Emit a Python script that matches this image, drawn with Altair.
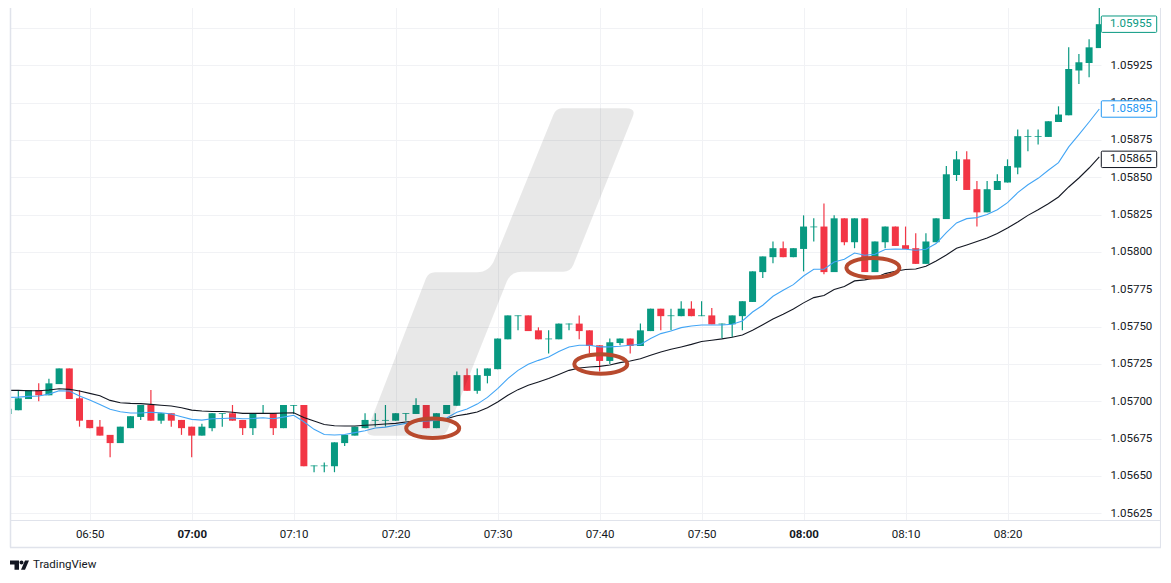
import altair as alt
import pandas as pd

# --- chart values ---
opens = [
1.056915,1.05694,1.057015,1.057075,1.05704,1.057115,1.05722,1.05702,
1.056875,1.05683,1.056775,1.05672,1.05682,1.056895,1.056975,1.05687,1.05692,1.056875,
1.05683,1.05677,1.05682,1.056915,1.05692,1.056875,1.05682,1.056915,1.05692,1.05682,
1.05697,1.056975,1.056565,1.056565,1.056565,1.05672,1.05677,1.05682,1.05687,1.05687,
1.05687,1.056915,1.056915,1.056975,1.05682,1.056915,1.05697,1.057175,1.05707,1.05717,
1.057215,1.057415,1.05757,1.057575,1.057475,1.057415,1.057415,1.057515,1.05752,1.057475,
1.057375,1.05727,1.05739,1.05742,1.05737,1.05747,1.05762,1.05757,1.05757,1.05762,
1.05757,1.057575,1.057515,1.057515,1.05757,1.057665,1.057865,1.057965,1.058025,1.057965,
1.05802,1.058165,1.05817,1.057865,1.058225,1.058065,1.058225,1.057865,1.058065,1.05817,
1.058045,1.058025,1.05792,1.058065,1.05822,1.058515,1.05862,1.05842,1.058265,1.058415,
1.058465,1.058565,1.05877,1.05877,1.05877,1.05887,1.058915,1.059215,1.059265,1.059365]
closes = [
1.05695,1.05702,1.057075,1.05704,1.05712,1.05722,1.057015,1.05687,
1.05682,1.05677,1.05672,1.05683,1.0569,1.056975,1.05687,1.05692,1.05687,1.05682,
1.05677,1.05683,1.05692,1.05692,1.05687,1.05682,1.05692,1.05692,1.05682,1.056975,
1.056975,1.056565,1.05657,1.05657,1.056725,1.056775,1.05683,1.056875,1.056875,1.056875,
1.05692,1.05692,1.056975,1.05682,1.05692,1.056975,1.057175,1.05707,1.057175,1.05722,
1.05742,1.057575,1.057575,1.05747,1.057415,1.05742,1.05752,1.05752,1.05747,1.05737,
1.05727,1.057395,1.05742,1.05737,1.057475,1.05762,1.05757,1.057575,1.05762,1.05757,
1.057575,1.057515,1.05752,1.057575,1.05767,1.05787,1.05797,1.058025,1.057965,1.058025,
1.05817,1.05817,1.057865,1.058225,1.058065,1.058225,1.057865,1.05807,1.05817,1.05804,
1.05802,1.05792,1.05807,1.058225,1.05852,1.05862,1.058415,1.058265,1.05842,1.058475,
1.058575,1.058775,1.058775,1.058775,1.058875,1.05892,1.059225,1.05927,1.05937,1.059525]
highs = [
1.05695,1.057075,1.057075,1.05712,1.05715,1.05722,1.05722,1.057075,
1.056875,1.056875,1.056775,1.05683,1.0569,1.056975,1.057075,1.05692,1.05692,1.056875,
1.05683,1.05685,1.05692,1.05692,1.056975,1.056875,1.05692,1.056975,1.05692,1.056975,
1.056975,1.056975,1.05657,1.05659,1.056725,1.056775,1.05683,1.05692,1.05692,1.056975,
1.05692,1.05692,1.05702,1.056975,1.05692,1.056975,1.0572,1.05722,1.05722,1.05722,
1.05742,1.057575,1.057575,1.057575,1.057495,1.057475,1.05752,1.05752,1.057575,1.057475,
1.057375,1.05742,1.05742,1.05742,1.05752,1.05762,1.05762,1.05762,1.05767,1.05767,
1.05767,1.057625,1.05752,1.057575,1.05767,1.05787,1.05797,1.05807,1.05807,1.058025,
1.058245,1.058225,1.058325,1.058245,1.058225,1.058225,1.058225,1.05807,1.05817,1.05817,
1.05817,1.058125,1.058125,1.058225,1.058575,1.058675,1.058675,1.058475,1.058475,1.05852,
1.05862,1.05882,1.05882,1.05882,1.058875,1.058975,1.05937,1.059325,1.059425,1.05975]
lows = [
1.056915,1.05694,1.057015,1.0570,1.05704,1.057115,1.057015,1.05683,
1.05682,1.05677,1.056625,1.05672,1.05682,1.056875,1.05687,1.05685,1.05683,1.056775,
1.056625,1.05677,1.0568,1.05683,1.05687,1.056775,1.056775,1.056915,1.056775,1.05682,
1.056915,1.056565,1.056525,1.056525,1.056525,1.0567,1.05677,1.05682,1.05683,1.05683,
1.05687,1.05687,1.056915,1.05682,1.05682,1.056915,1.05697,1.05707,1.05705,1.05712,
1.057215,1.057415,1.057475,1.05747,1.057415,1.05732,1.057415,1.057475,1.057415,1.05732,
1.0572,1.05725,1.057375,1.05732,1.05737,1.05747,1.057475,1.057475,1.05757,1.05757,
1.05757,1.057515,1.05742,1.05743,1.057475,1.057665,1.057825,1.057925,1.057965,1.057965,
1.05787,1.05807,1.05785,1.057865,1.058045,1.058025,1.057865,1.057865,1.058025,1.05804,
1.05802,1.05792,1.05792,1.058065,1.05822,1.058475,1.058415,1.05817,1.058265,1.058415,
1.058465,1.05852,1.058675,1.05872,1.05877,1.05887,1.058915,1.059125,1.05917,1.059365]
ema_black = [
1.057073,1.057073,1.05707,1.05707,1.057075,1.057084,1.05708,1.057069,
1.057053,1.057037,1.057006,1.05699,1.056986,1.056984,1.056979,1.056973,1.056968,1.056957,
1.056941,1.056935,1.056932,1.056932,1.056926,1.056919,1.056919,1.056919,1.056919,1.056921,
1.056923,1.056892,1.056868,1.056845,1.056836,1.056834,1.056834,1.056839,1.056843,1.056848,
1.056852,1.056861,1.056868,1.056874,1.056874,1.056883,1.056903,1.056914,1.056928,1.056957,
1.056995,1.05704,1.057078,1.057107,1.057129,1.057152,1.05718,1.057207,1.057223,1.05723,
1.057234,1.057243,1.057259,1.05727,1.057285,1.057308,1.05733,1.057348,1.057364,1.057381,
1.0574,1.057409,1.057418,1.057429,1.057444,1.057476,1.057513,1.057551,1.057583,1.057618,
1.057659,1.057694,1.057708,1.057748,1.057768,1.057806,1.057813,1.057826,1.057855,1.057871,
1.057882,1.057886,1.057904,1.05794,1.05798,1.058024,1.058047,1.05807,1.058093,1.058124,
1.05816,1.058201,1.058245,1.058283,1.058323,1.058368,1.058435,1.058495,1.058562,1.058636]
ema_blue = [
1.057026,1.057028,1.057033,1.057035,1.057048,1.05707,1.057069,1.057035,
1.057008,1.056979,1.056946,1.05693,1.056921,1.056921,1.056926,1.056923,1.056915,1.056897,
1.056879,1.056874,1.056883,1.056885,1.056888,1.056883,1.056885,1.05689,1.056883,1.056894,
1.056906,1.056863,1.056812,1.056778,1.056774,1.056778,1.05679,1.056803,1.056821,1.056827,
1.056839,1.056852,1.056863,1.056868,1.056872,1.056888,1.056926,1.056948,1.056981,1.057026,
1.057085,1.057152,1.057207,1.057248,1.057274,1.057297,1.057334,1.057364,1.057375,1.057375,
1.057364,1.057364,1.057368,1.057375,1.057381,1.05742,1.057453,1.057471,1.057493,1.057504,
1.057511,1.057511,1.057511,1.057516,1.057538,1.057598,1.057643,1.057703,1.057743,1.057781,
1.057839,1.057884,1.057884,1.057933,1.057951,1.057993,1.057978,1.057984,1.058016,1.05802,
1.058018,1.058011,1.058018,1.058056,1.058129,1.058194,1.058223,1.05823,1.05825,1.058283,
1.05833,1.058397,1.05845,1.058493,1.058547,1.058598,1.058703,1.058785,1.05887,1.058957]

y_ticks = [1.05625,1.05650,1.05675,1.05700,1.05725,1.05750,1.05775,1.05800,1.05825,1.05850,1.05875,1.05900,1.05925,1.05950]
tick_hm = [(6,50),(7,0),(7,10),(7,20),(7,30),(7,40),(7,50),(8,0),(8,10),(8,20)]
last_text = ["1.05955", "1.05895", "1.05865"]
last_pos = [1.059525, 1.058957, 1.05862]
last_color = ["#089981", "#2196f3", "#131722"]
mark_time = ["2024-01-01T07:23:38", "2024-01-01T07:40:07", "2024-01-01T08:06:48"]
mark_price = [1.056819, 1.05725, 1.057894]

GREEN, RED = "#089981", "#f23645"
FONT = "Roboto"
TXT = "#131722"
FRAME = "#e0e3eb"
GRID = "#f1f2f5"
FS = 11.5

start_h, start_m = 6, 42
times = []
for i in range(len(opens)):
    m = start_h * 60 + start_m + i
    times.append(f"2024-01-01T{m // 60:02d}:{m % 60:02d}:00")

candles = pd.DataFrame({
    "t": times, "o": opens, "h": highs, "l": lows, "c": closes,
    "col": [GREEN if c >= o else RED for o, c in zip(opens, closes)],
})
lines = pd.DataFrame({"t": times, "black": ema_black, "blue": ema_blue})
labels = pd.DataFrame({"txt": last_text, "pos": last_pos, "col": last_color})
circles = pd.DataFrame({"t": mark_time, "p": mark_price})
one = pd.DataFrame({"a": [0]})

x_scale = alt.Scale(domain=[
    alt.DateTime(year=2024, month=1, date=1, hours=6, minutes=42, seconds=11),
    alt.DateTime(year=2024, month=1, date=1, hours=8, minutes=29, seconds=10)], padding=0)
y_scale = alt.Scale(domain=[1.056205, 1.059687], zero=False, nice=False)

x_axis_def = alt.Axis(
    values=[alt.DateTime(year=2024, month=1, date=1, hours=h, minutes=m) for h, m in tick_hm],
    format="%H:%M",
    grid=True, gridColor=GRID, gridWidth=1, domain=False, ticks=False,
    labelPadding=8, labelFont=FONT, labelFontSize=FS, labelColor=TXT,
    labelFlush=False, labelOverlap=False,
    labelFontWeight=alt.expr("minutes(datum.value)==0?'bold':'normal'"))
y_axis_def = alt.Axis(
    orient="right", values=y_ticks, grid=True, gridColor=GRID,
    labelExpr="datum.value>1.0594?'':format(datum.value,'.5f')",
    gridWidth=1, domain=False, ticks=False, labelPadding=9, labelFont=FONT,
    labelFontSize=FS, labelColor=TXT, labelOverlap=False, labelFlush=False)

x_enc = alt.X("t:T", scale=x_scale, title=None, axis=x_axis_def)


def y_of(f):
    return alt.Y(f, scale=y_scale, title=None, axis=y_axis_def)


wicks = alt.Chart(candles).mark_rule(strokeWidth=1.2, clip=True).encode(
    x=x_enc, y=y_of("h:Q"), y2="l:Q", color=alt.Color("col:N", scale=None, legend=None))
bodies = alt.Chart(candles).mark_bar(size=7, clip=True).encode(
    x=x_enc, y=y_of("o:Q"), y2="c:Q", color=alt.Color("col:N", scale=None, legend=None))
black = alt.Chart(lines).mark_line(color="#131722", strokeWidth=1.1, clip=True).encode(x=x_enc, y=y_of("black:Q"))
blue = alt.Chart(lines).mark_line(color="#42a5f5", strokeWidth=1.1, clip=True).encode(x=x_enc, y=y_of("blue:Q"))

WM = ("M72.3,-157 Q75,-163.7 81,-163.7 L145,-163.7 Q155,-163.7 152,-156 L92.3,-7 Q89.5,-0.3 82.3,-0.3 "
      "L40.7,-0.3 Q30,-0.3 25.7,9.7 L-32.7,156.3 Q-35,163.7 -42,163.7 L-107,163.7 Q-116,163.7 -113,156 "
      "L-55,6.3 Q-52.5,0.3 -46,0.3 L-4.3,0.3 Q9,0.3 14,-13.7 Z")
watermark = alt.Chart(one).mark_point(shape=WM, size=4, filled=True, color="#000000", opacity=0.09,
                                      strokeWidth=0).encode(x=alt.value(471), y=alt.value(272))

ELL = "M-1,0 A1,0.37 0 1 0 1,0 A1,0.37 0 1 0 -1,0 Z"
rings = alt.Chart(circles).mark_point(shape=ELL, size=2809, filled=False, color="#b84a2e", opacity=1,
                                      strokeWidth=4).encode(x=x_enc, y=y_of("p:Q"))

frame_l = alt.Chart(one).mark_rule(color=FRAME, strokeWidth=1.5).encode(x=alt.value(0.5), y=alt.value(0), y2=alt.value(547.5))
frame_r = alt.Chart(one).mark_rule(color=FRAME, strokeWidth=1.5).encode(x=alt.value(1150.7), y=alt.value(0), y2=alt.value(547.5))
frame_b = alt.Chart(one).mark_rule(color=FRAME, strokeWidth=1.5).encode(x=alt.value(0), x2=alt.value(1151), y=alt.value(547.5))
frame_a = alt.Chart(one).mark_rule(color=FRAME, strokeWidth=1).encode(x=alt.value(0), x2=alt.value(1151), y=alt.value(520.5))

BOX = ("M-26.7,-8.2 L26.7,-8.2 Q27.7,-8.2 27.7,-7.2 L27.7,7.2 Q27.7,8.2 26.7,8.2 L-26.7,8.2 "
       "Q-27.7,8.2 -27.7,7.2 L-27.7,-7.2 Q-27.7,-8.2 -26.7,-8.2 Z")
boxes = alt.Chart(labels).mark_point(shape=BOX, size=4, filled=True, fill="white", opacity=1, strokeWidth=1).encode(
    x=alt.value(1119), y=y_of("pos:Q"), stroke=alt.Stroke("col:N", scale=None, legend=None))
box_text = alt.Chart(labels).mark_text(align="left", baseline="middle", font=FONT, fontSize=FS).encode(
    x=alt.value(1100), y=y_of("pos:Q"), text="txt:N", color=alt.Color("col:N", scale=None, legend=None))

LOGO = ("M-9.5,-4.5 L-0.5,-4.5 L-0.5,4.7 L-5,4.7 L-5,-0.5 L-9.5,-0.5 Z "
        "M4,-2.5 A2,2 0 1 1 0,-2.5 A2,2 0 1 1 4,-2.5 Z "
        "M5.5,-4.5 L9.5,-4.5 L5.5,4.7 L1.5,4.7 Z")
logo = alt.Chart(one).mark_point(shape=LOGO, size=4, filled=True, color=TXT, opacity=1, strokeWidth=0).encode(
    x=alt.value(9.5), y=alt.value(565))
brand = alt.Chart(one).mark_text(text="TradingView", align="left", baseline="middle", font=FONT,
                                 fontSize=FS, color=TXT).encode(x=alt.value(23), y=alt.value(565))

chart = alt.layer(
    wicks, bodies, black, blue, watermark, rings,
    frame_a, frame_l, frame_r, frame_b, boxes, box_text, logo, brand,
).properties(
    width=1091, height=520,
    autosize=alt.AutoSizeParams(type="none"),
    padding={"left": 2, "top": -8, "right": 60, "bottom": 55},
    background="white",
).configure_view(stroke=None)

chart.save("out.html", embed_options={"renderer": "svg", "actions": False})
